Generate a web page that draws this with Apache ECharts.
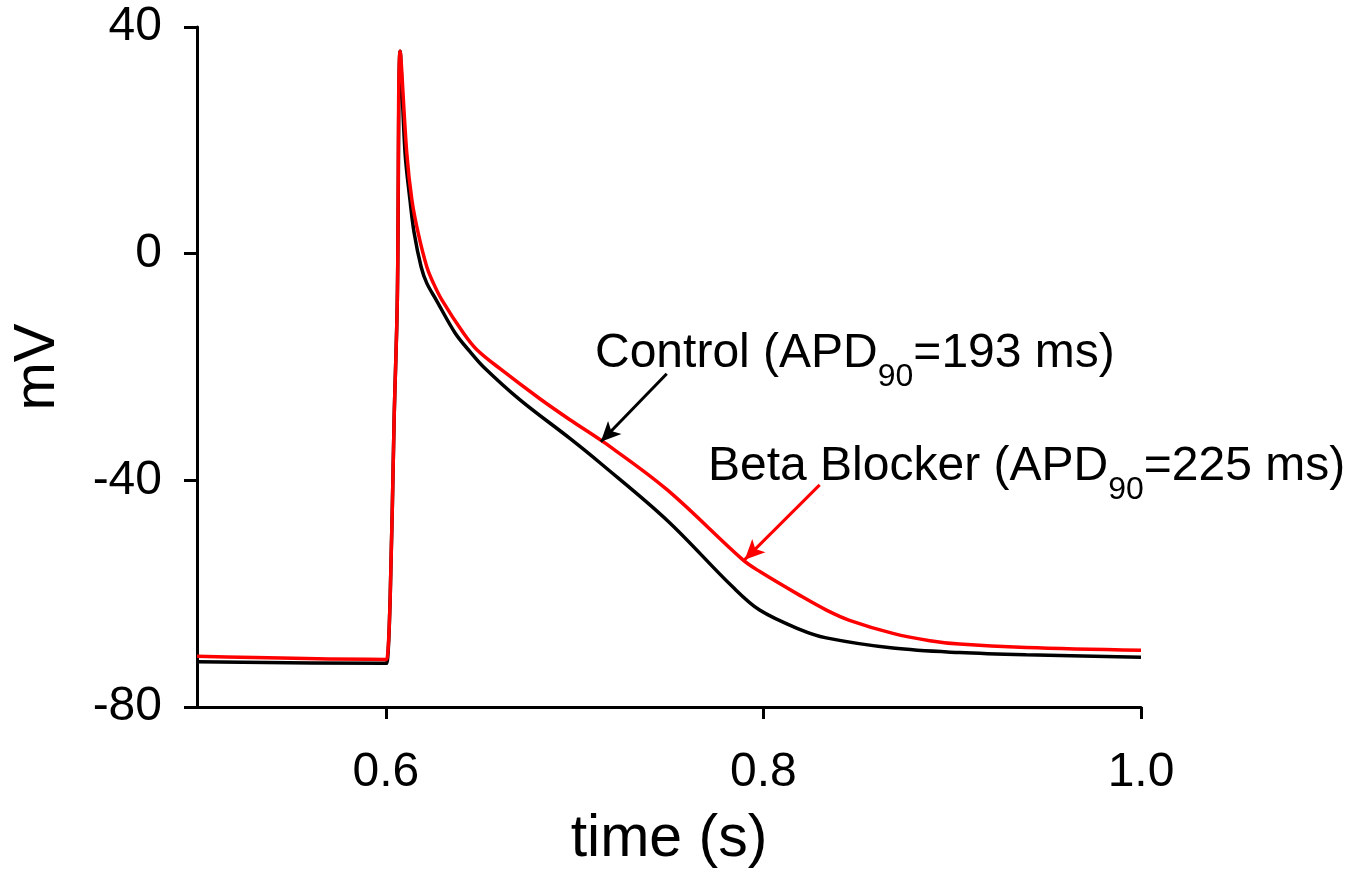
<!DOCTYPE html>
<html>
<head>
<meta charset="utf-8">
<title>Action potential</title>
<script src="https://cdn.jsdelivr.net/npm/echarts@6/dist/echarts.min.js"></script>
<style>
  html, body { margin: 0; padding: 0; background: #fff; }
  #chart { width: 1356px; height: 888px; }
</style>
</head>
<body>
<div id="chart"></div>
<script>
// time (s) and membrane potential (mV)
var controlTime = [0.5, 0.6, 0.6005, 0.6023, 0.6044, 0.6061, 0.6076, 0.6102, 0.6128, 0.6150, 0.6187,
  0.6217, 0.6266, 0.6367, 0.6446, 0.6515, 0.6711, 0.6975, 0.7134, 0.7488, 0.7837, 0.7980,
  0.8192, 0.8333, 0.8686, 0.9039, 0.9392, 1.0]
var controlMv = [-72.0, -72.3, -72.3, -61, -29.3, -8.1, 35.7, 17.8, 9.5, 3.7, -2.3,
  -5.2, -8.1, -14.0, -17.3, -19.9, -25.8, -32.6, -36.9, -47.0, -58.8, -62.9,
  -66.3, -67.8, -69.6, -70.4, -70.8, -71.2]

var betaTime = [0.5, 0.6, 0.6005, 0.6023, 0.6044, 0.6061, 0.6076, 0.6111, 0.6138, 0.6171, 0.6217,
  0.6252, 0.6296, 0.6411, 0.6481, 0.6605, 0.6816, 0.6975, 0.7160, 0.7488, 0.7890, 0.7981,
  0.8193, 0.8334, 0.8456, 0.8686, 0.8882, 0.9039, 0.9392, 1.0]
var betaMv = [-71.06, -71.6, -71.6, -61, -29.3, -8.1, 35.7, 17.8, 9.5, 3.7, -2.3,
  -5.2, -8.1, -14.0, -16.9, -20.3, -25.6, -29.3, -33.4, -41.6, -54.0, -56.1,
  -60.3, -62.9, -64.7, -67.0, -68.3, -68.9, -69.5, -70.0]

var xTicks = [0.6, 0.8, 1.0]

// arrows: [from, to] in data units
var controlArrow = [[0.7488, -21.2], [0.7139, -33.2]]
var betaArrow = [[0.8298, -40.8], [0.7901, -54.0]]

function pairs(xs, ys) {
  return xs.map(function (x, i) { return [x, ys[i]] })
}

var chart = echarts.init(document.getElementById('chart'))

var font = 'Liberation Sans, Arial, sans-serif'

chart.setOption({
  animation: false,
  backgroundColor: '#fff',
  grid: {
    left: 197,
    right: 215,
    top: 27,
    bottom: 181,
    containLabel: false
  },
  xAxis: {
    type: 'value',
    min: 0.5,
    max: 1.0,
    interval: 0.1,
    name: 'time (s)',
    nameLocation: 'middle',
    nameGap: 103,
    nameTextStyle: { fontFamily: font, fontSize: 59, color: '#000' },
    axisLine: { onZero: false, lineStyle: { color: '#000', width: 3 } },
    axisTick: { show: true, length: 12, customValues: xTicks, lineStyle: { color: '#000', width: 3 } },
    axisLabel: {
      customValues: xTicks,
      margin: 42,
      fontFamily: font,
      fontSize: 48,
      color: '#000',
      formatter: function (v) { return v.toFixed(1) }
    },
    splitLine: { show: false }
  },
  yAxis: {
    type: 'value',
    min: -80,
    max: 40,
    interval: 40,
    name: 'mV',
    nameLocation: 'middle',
    nameGap: 130,
    nameTextStyle: { fontFamily: font, fontSize: 58, color: '#000' },
    axisLine: { onZero: false, lineStyle: { color: '#000', width: 3 } },
    axisTick: { show: true, length: 13, lineStyle: { color: '#000', width: 3 } },
    axisLabel: { margin: 35, fontFamily: font, fontSize: 48, color: '#000' },
    splitLine: { show: false }
  },
  series: [
    {
      name: 'Control',
      type: 'line',
      data: pairs(controlTime, controlMv),
      smooth: 0.35,
      showSymbol: false,
      lineStyle: { color: '#000', width: 3.5 },
      itemStyle: { color: '#000' },
      markLine: {
        silent: true,
        symbol: ['none', 'arrow'],
        symbolSize: [14, 20],
        label: { show: false },
        lineStyle: { color: '#000', width: 3, type: 'solid' },
        data: [[{ coord: controlArrow[0] }, { coord: controlArrow[1] }]]
      }
    },
    {
      name: 'Beta Blocker',
      type: 'line',
      data: pairs(betaTime, betaMv),
      smooth: 0.35,
      showSymbol: false,
      lineStyle: { color: '#ff0000', width: 3.5 },
      itemStyle: { color: '#ff0000' },
      markLine: {
        silent: true,
        symbol: ['none', 'arrow'],
        symbolSize: [14, 20],
        label: { show: false },
        lineStyle: { color: '#ff0000', width: 3, type: 'solid' },
        data: [[{ coord: betaArrow[0] }, { coord: betaArrow[1] }]]
      }
    }
  ],
  graphic: [
    {
      type: 'text',
      left: 595,
      top: 330,
      style: {
        text: '{a|Control (APD}{s|90}{a|=193 ms)}',
        fill: '#000',
        rich: {
          a: { fontFamily: font, fontSize: 48, fill: '#000' },
          s: { fontFamily: font, fontSize: 32, fill: '#000', padding: [46, 0, 0, 0] }
        }
      }
    },
    {
      type: 'text',
      left: 708,
      top: 443,
      style: {
        text: '{a|Beta Blocker (APD}{s|90}{a|=225 ms)}',
        fill: '#000',
        rich: {
          a: { fontFamily: font, fontSize: 48, fill: '#000' },
          s: { fontFamily: font, fontSize: 32, fill: '#000', padding: [46, 0, 0, 0] }
        }
      }
    }
  ]
})
</script>
</body>
</html>
